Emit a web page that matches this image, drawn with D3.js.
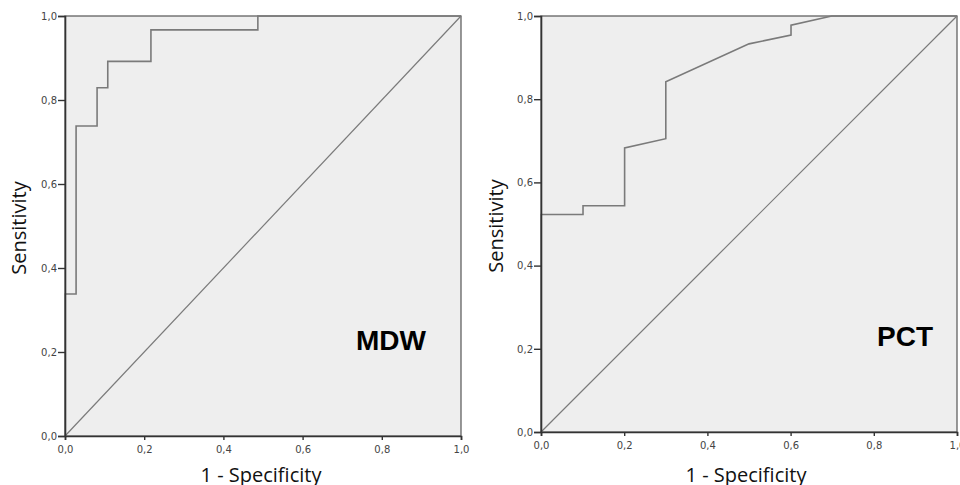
<!DOCTYPE html>
<html>
<head>
<meta charset="utf-8">
<script src="https://cdn.jsdelivr.net/npm/d3@7"></script>
<style>
  body { margin: 0; background: #fff; }
  svg { display: block; }
</style>
</head>
<body>
<div id="chart-container"></div>
<script>
const width = 960;
const height = 485;

// ROC points (1 - specificity, sensitivity)
const mdwFpr = [0, 0, 0.028, 0.028, 0.081, 0.081, 0.108, 0.108, 0.217, 0.217, 0.487, 0.487, 1];
const mdwTpr = [0, 0.338, 0.338, 0.738, 0.738, 0.829, 0.829, 0.892, 0.892, 0.967, 0.967, 1, 1];

const pctFpr = [0, 0, 0.101, 0.101, 0.201, 0.201, 0.30, 0.30, 0.50, 0.601, 0.601, 0.699, 1];
const pctTpr = [0, 0.523, 0.523, 0.544, 0.544, 0.683, 0.705, 0.842, 0.933, 0.954, 0.978, 1, 1];

const tickValues = [0, 0.2, 0.4, 0.6, 0.8, 1.0];

const svg = d3.select("#chart-container")
  .append("svg")
  .attr("width", width)
  .attr("height", height);

const fmt = d => d3.format(".1f")(d).replace(".", ",");

function drawPanel(cfg) {
  const x = d3.scaleLinear().domain([0, 1]).range([cfg.x0, cfg.x1]);
  const y = d3.scaleLinear().domain([0, 1]).range([cfg.y0, cfg.y1]);

  const g = svg.append("g");

  g.append("rect")
    .attr("x", x(0))
    .attr("y", y(1))
    .attr("width", x(1) - x(0))
    .attr("height", y(0) - y(1))
    .attr("fill", "#eeeeee")
    .attr("stroke", "#555")
    .attr("stroke-width", 1.2);

  // reference diagonal
  g.append("line")
    .attr("x1", x(0)).attr("y1", y(0))
    .attr("x2", x(1)).attr("y2", y(1))
    .attr("stroke", "#7a7a7a")
    .attr("stroke-width", 1.2);

  const pts = cfg.fpr.map((f, i) => [f, cfg.tpr[i]]);
  const line = d3.line().x(d => x(d[0])).y(d => y(d[1]));

  g.append("path")
    .attr("d", line(pts))
    .attr("fill", "none")
    .attr("stroke", "#7a7a7a")
    .attr("stroke-width", 1.6);

  const xAxis = g.append("g")
    .attr("transform", `translate(0,${y(0)})`)
    .call(d3.axisBottom(x).tickValues(tickValues).tickFormat(fmt).tickSize(4).tickPadding(6));

  const yAxis = g.append("g")
    .attr("transform", `translate(${x(0)},0)`)
    .call(d3.axisLeft(y).tickValues(tickValues).tickFormat(fmt).tickSize(7).tickPadding(1));

  [xAxis, yAxis].forEach(a => {
    a.select(".domain").attr("stroke", "#333").attr("stroke-width", 1.6);
    a.selectAll(".tick line").attr("stroke", "#333").attr("stroke-width", 1.4);
    a.selectAll(".tick text")
      .attr("fill", "#444")
      .style("font-family", "DejaVu Sans")
      .style("font-size", "10px");
  });

  g.append("text")
    .attr("transform", `translate(${cfg.yTitleX},${(y(0) + y(1)) / 2 + 2}) rotate(-90)`)
    .attr("text-anchor", "middle")
    .style("font-family", "Open Sans")
    .style("font-size", "20px")
    .attr("fill", "#111")
    .text("Sensitivity");

  g.append("text")
    .attr("x", cfg.xTitleX)
    .attr("y", 482)
    .attr("text-anchor", "middle")
    .style("font-family", "Open Sans")
    .style("font-size", "20px")
    .attr("fill", "#111")
    .text("1 - Specificity");

  g.append("text")
    .attr("x", cfg.labelX)
    .attr("y", cfg.labelY)
    .attr("text-anchor", "middle")
    .style("font-family", "Liberation Sans")
    .style("font-weight", "bold")
    .style("font-size", "28px")
    .attr("fill", "#000")
    .text(cfg.label);
}

drawPanel({
  x0: 65, x1: 461, y0: 436, y1: 16,
  fpr: mdwFpr, tpr: mdwTpr,
  yTitleX: 26, xTitleX: 261,
  label: "MDW", labelX: 391, labelY: 350
});

drawPanel({
  x0: 541, x1: 957, y0: 432, y1: 16,
  fpr: pctFpr, tpr: pctTpr,
  yTitleX: 503, xTitleX: 746,
  label: "PCT", labelX: 905, labelY: 346
});
</script>
</body>
</html>
